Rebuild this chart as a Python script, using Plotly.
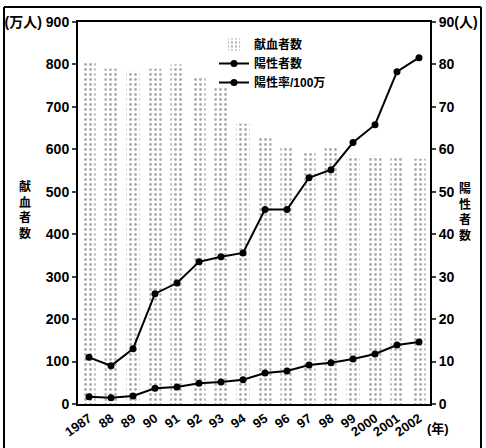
import plotly.graph_objects as go

years = ["1987", "88", "89", "90", "91", "92", "93", "94", "95", "96", "97", "98", "99", "2000", "2001", "2002"]
donors = [805, 790, 785, 790, 800, 770, 745, 660, 630, 605, 595, 605, 585, 585, 580, 578]   # 万人
positives = [11, 9, 13, 26, 28.5, 33.5, 34.7, 35.6, 45.8, 45.8, 53.3, 55.2, 61.6, 65.8, 78.3, 81.6]  # 人
rate = [1.7, 1.5, 1.9, 3.7, 4.0, 4.9, 5.2, 5.7, 7.3, 7.8, 9.2, 9.7, 10.6, 11.8, 13.9, 14.6]  # /100万

left_ticks = [0, 100, 200, 300, 400, 500, 600, 700, 800, 900]
left_labels = ["0", "100", "200", "300", "400", "500", "600", "700", "800", "(万人) 900"]
right_ticks = [0, 10, 20, 30, 40, 50, 60, 70, 80, 90]
right_labels = ["0", "10", "20", "30", "40", "50", "60", "70", "80", "90(人)"]

FONT = "Liberation Sans, Noto Sans CJK JP, sans-serif"
L, R, T, B = 78, 430, 22, 404
PW, PH = R - L, B - T

def px(x):
    return (x - L) / PW

def py(y):
    return (B - y) / PH

fig = go.Figure()
fig.add_trace(go.Bar(
    x=years, y=donors, name="献血者数", width=0.6,
    marker=dict(color="white", line=dict(width=0),
                pattern=dict(shape=".", fgcolor="#555", bgcolor="white", size=5, solidity=0.25)),
))
fig.add_trace(go.Scatter(
    x=years, y=positives, name="陽性者数", yaxis="y2", mode="lines+markers",
    line=dict(color="black", width=2), marker=dict(color="black", size=7),
))
fig.add_trace(go.Scatter(
    x=years, y=rate, name="陽性率/100万", yaxis="y2", mode="lines+markers",
    line=dict(color="black", width=2), marker=dict(color="black", size=7),
))

fig.update_layout(
    width=486, height=448,
    margin=dict(l=L, r=486 - R, t=T, b=448 - B, autoexpand=False),
    paper_bgcolor="white", plot_bgcolor="white",
    font=dict(family=FONT, size=12, color="black"),
    showlegend=True,
    legend=dict(x=px(214), y=py(30), xanchor="left", yanchor="top",
                bgcolor="rgba(0,0,0,0)", font=dict(size=12, weight="bold"),
                tracegroupgap=0, itemwidth=30),
    xaxis=dict(type="category", range=[-0.5, 15.5], tickangle=-35, automargin=False,
               showline=True, linecolor="black", linewidth=2, mirror=True,
               ticks="", tickfont=dict(size=13, weight="bold"), showgrid=False),
    yaxis=dict(range=[0, 900], tickvals=left_ticks, ticktext=left_labels, automargin=False,
               showline=True, linecolor="black", linewidth=2, ticks="outside",
               ticklen=4, tickwidth=1.5, showgrid=False, zeroline=False,
               tickfont=dict(size=14, weight="bold")),
    yaxis2=dict(range=[0, 90], tickvals=right_ticks, ticktext=right_labels, automargin=False,
                overlaying="y", side="right", showline=True, linecolor="black",
                linewidth=2, ticks="outside", ticklen=4, tickwidth=1.5,
                showgrid=False, zeroline=False, tickfont=dict(size=14, weight="bold")),
)

fig.add_annotation(text="献<br>血<br>者<br>数", x=px(25), y=py(210),
                   xref="paper", yref="paper", showarrow=False,
                   font=dict(size=12, weight="bold"), xanchor="center", yanchor="middle")
fig.add_annotation(text="陽<br>性<br>者<br>数", x=px(465), y=py(212),
                   xref="paper", yref="paper", showarrow=False,
                   font=dict(size=12, weight="bold"), xanchor="center", yanchor="middle")
fig.add_annotation(text="(年)", x=px(438), y=py(428),
                   xref="paper", yref="paper", showarrow=False,
                   font=dict(size=13, weight="bold"), xanchor="center", yanchor="middle")

# outer frame (three visible sides)
frame = dict(color="black", width=2)
fig.add_shape(type="line", xref="paper", yref="paper", x0=px(4), x1=px(4), y0=py(448), y1=py(7), line=frame)
fig.add_shape(type="line", xref="paper", yref="paper", x0=px(481), x1=px(481), y0=py(448), y1=py(7), line=frame)
fig.add_shape(type="line", xref="paper", yref="paper", x0=px(4), x1=px(481), y0=py(7), y1=py(7), line=frame)

fig.write_html("out.html", config={"displayModeBar": False},
               post_script="document.body.style.margin='0';document.body.style.padding='0';document.body.style.overflow='hidden';")
